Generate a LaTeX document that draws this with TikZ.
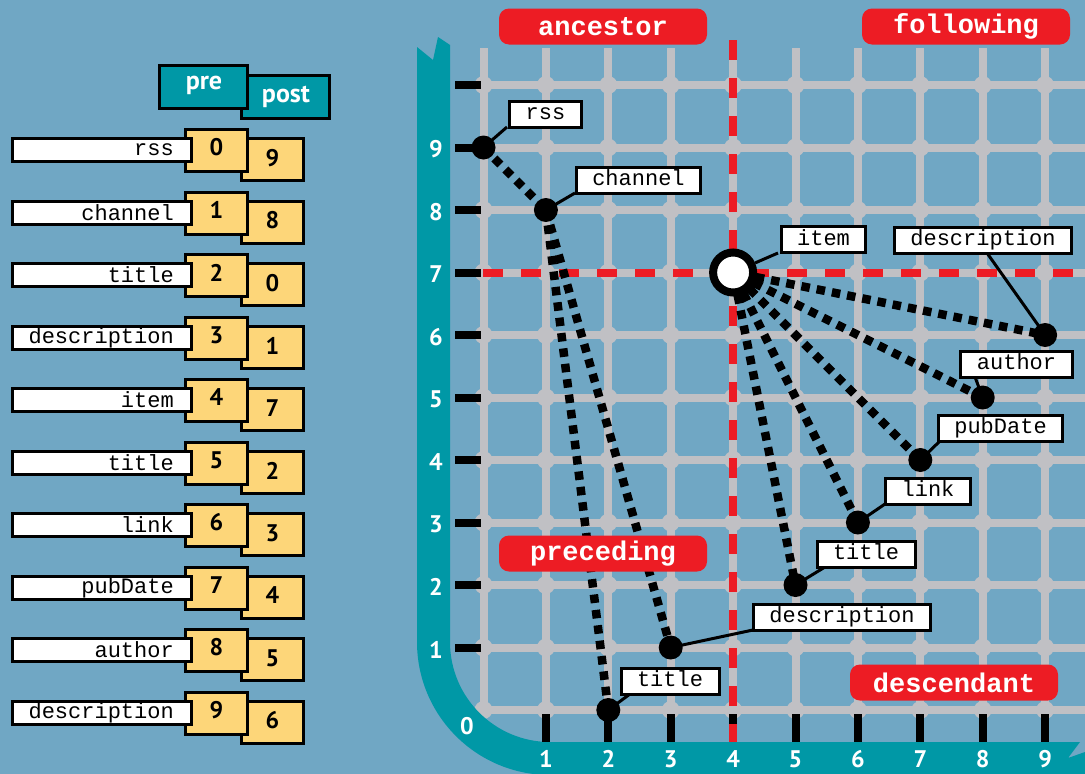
\documentclass[tikz,border=0pt]{standalone}
\usepackage{fontspec}
\setmainfont{PT Sans}
\newfontfamily\mono{Liberation Mono}
\definecolor{bgc}{RGB}{112,167,196}
\definecolor{tealc}{RGB}{0,152,166}
\definecolor{gridc}{RGB}{192,192,196}
\definecolor{redc}{RGB}{237,28,36}
\definecolor{yelc}{RGB}{253,214,121}
\begin{document}
\begin{tikzpicture}[x=1pt,y=-1pt,
  dotn/.style={circle,fill=black,minimum size=24pt,inner sep=0pt},
  lbl/.style={draw=black,line width=3pt,fill=white,font=\mono\fontsize{22}{22}\selectfont,inner xsep=16pt,inner ysep=0pt,text height=15pt,text depth=4pt,minimum height=26pt},
  redbox/.style={fill=redc,rounded corners=10pt,minimum width=208pt,minimum height=36pt,inner sep=0pt,text=white,font=\mono\bfseries\fontsize{27}{27}\selectfont},
  dotl/.style={line width=8.5pt,dash pattern=on 8.5pt off 7pt,black},
  conn/.style={line width=3pt,black},
  axn/.style={text=white,font=\bfseries\fontsize{24}{24}\selectfont,inner sep=0pt},
  yel/.style={draw=black,line width=3pt,fill=yelc,minimum width=62pt,minimum height=42pt,inner sep=0pt},
  ynum/.style={font=\bfseries\fontsize{24}{24}\selectfont,inner sep=0pt},
  wbox/.style={draw=black,line width=3pt,fill=white,minimum width=179pt,minimum height=23pt,inner sep=0pt},
  wtxt/.style={font=\mono\fontsize{22}{22}\selectfont,inner sep=0pt,anchor=east},
  hbox/.style={draw=black,line width=3pt,fill=tealc,minimum width=88pt,minimum height=43pt,inner sep=0pt},
  htxt/.style={text=white,font=\bfseries\fontsize{26}{26}\selectfont,inner sep=0pt}
]
\path[use as bounding box,fill=bgc] (0,0) rectangle (1085,774);

% grid
\foreach \i in {0,...,9}
  \draw[gridc,line width=8pt] ({483.5+62.4*\i},48) -- ({483.5+62.4*\i},710);
\foreach \j in {0,...,10}
  \draw[gridc,line width=8pt] (480,{710-62.5*\j}) -- (1085,{710-62.5*\j});
\foreach \i in {0,...,9}
  \foreach \j in {0,...,10}
    \fill[gridc] ({483.5+62.4*\i},{710-62.5*\j}) circle (9pt);

% axis band
\fill[tealc] (417,47) -- (417,642) .. controls (417,715.5) and (476.5,775) .. (550,775)
  -- (1085,775) -- (1085,752) -- (1068,758) -- (1080,742) -- (550,742)
  .. controls (494.8,742) and (450,697.2) .. (450,642) -- (450,45) -- (438,37) -- (433,60) -- cycle;

% ticks
\foreach \j in {1,...,10}
  \draw[black,line width=8pt] (455,{710-62.5*\j}) -- (481,{710-62.5*\j});
\foreach \i in {1,...,9}
  \draw[black,line width=8pt] ({483.5+62.4*\i},714) -- ({483.5+62.4*\i},742);

% axis numbers
\foreach \j in {1,...,9}
  \node[axn] (ya\j) at (436,{712-62.5*\j}) {\j};
\foreach \i in {1,...,9}
  \node[axn] (xa\i) at ({483.5+62.4*\i},759) {\i};
\node[axn] (za) at (467,726) {0};

% red dashed axes
\draw[redc,line width=8pt,dash pattern=on 20pt off 18pt] (733.1,40) -- (733.1,742);
\draw[redc,line width=8pt,dash pattern=on 20pt off 18pt] (483,272.5) -- (1085,272.5);

% tree nodes
\node[dotn] (rss) at (483.5,147.5) {};
\node[dotn] (channel) at (545.9,210) {};
\node[circle,minimum size=46pt,inner sep=0pt] (item) at (733.1,272.5) {};
\node[dotn] (desc) at (1045.1,335) {};
\node[dotn] (author) at (982.7,397.5) {};
\node[dotn] (pubdate) at (920.3,460) {};
\node[dotn] (link) at (857.9,522.5) {};
\node[dotn] (titleA) at (795.5,585) {};
\node[dotn] (descB) at (670.7,647.5) {};
\node[dotn] (titleB) at (608.3,710) {};

% dotted edges
\draw[dotl] (rss.center) -- (channel.center);
\draw[dotl] (channel.center) -- (titleB.center);
\draw[dotl] (channel.center) -- (descB.center);
\draw[dotl] (item) -- (desc.center);
\draw[dotl] (item) -- (author.center);
\draw[dotl] (item) -- (pubdate.center);
\draw[dotl] (item) -- (link.center);
\draw[dotl] (item) -- (titleA.center);

% region labels
\node[redbox] (anc) at (603,26.5) {ancestor};
\node[redbox] (fol) at (966,26.5) {following};
\node[redbox] (pre) at (603,553.5) {preceding};
\node[redbox] (des) at (954,682.5) {descendant};

% visible ring of item
\node[circle,draw=black,line width=8pt,fill=white,minimum size=40pt,inner sep=0pt] (itemring) at (item.center) {};

% connector ends
\coordinate (rssc) at (507,127);
\coordinate (channelc) at (575,193);
\coordinate (itemc) at (778,253);
\coordinate (descc) at (987,253);
\coordinate (authorc) at (975,377);
\coordinate (pubdatec) at (940,441);
\coordinate (linkc) at (885,504);
\coordinate (titleAc) at (825,567);
\coordinate (descBc) at (753,630);
\coordinate (titleBc) at (630,694);

% connectors
\draw[conn] (rss.center) -- (rssc);
\draw[conn] (channel.center) -- (channelc);
\draw[conn] (itemring) -- (itemc);
\draw[conn] (desc.center) -- (descc);
\draw[conn] (author.center) -- (authorc);
\draw[conn] (pubdate.center) -- (pubdatec);
\draw[conn] (link.center) -- (linkc);
\draw[conn] (titleA.center) -- (titleAc);
\draw[conn] (descB.center) -- (descBc);
\draw[conn] (titleB.center) -- (titleBc);

% labels
\node[lbl] (rssl) at (545.5,114) {rss};
\node[lbl] (channell) at (638.5,180) {channel};
\node[lbl] (iteml) at (823.5,239.5) {item};
\node[lbl] (descl) at (983,240) {description};
\node[lbl] (authorl) at (1016.5,364) {author};
\node[lbl] (pubdatel) at (1000.5,428) {pubDate};
\node[lbl] (linkl) at (928,491) {link};
\node[lbl] (titleAl) at (866,554) {title};
\node[lbl] (descBl) at (842,617) {description};
\node[lbl] (titleBl) at (670,681) {title};

% header boxes
\node[hbox] (posth) at (285,97) {};
\node[htxt] (postt) at (286,97) {post};
\node[hbox] (preh) at (203.5,87) {};
\node[htxt] (pret) at (204,85) {pre};

% table rows
\foreach \k/\nm/\a/\b in {0/rss/0/9,1/channel/1/8,2/title/2/0,3/description/3/1,4/item/4/7,5/title/5/2,6/link/6/3,7/pubDate/7/4,8/author/8/5,9/description/9/6}{
  \node[yel] (po\k) at (272.5,{150+62.5*\k+9.5}) {};
  \node[ynum] (pon\k) at (272.5,{150+62.5*\k+8}) {\b};
  \node[yel] (pr\k) at (216.5,{150+62.5*\k+0.5}) {};
  \node[ynum] (prn\k) at (216.5,{150+62.5*\k-2.5}) {\a};
  \node[wbox] (w\k) at (102,{150+62.5*\k}) {};
  \node[wtxt] (wt\k) at (174,{150+62.5*\k}) {\nm};
}
\end{tikzpicture}
\end{document}
